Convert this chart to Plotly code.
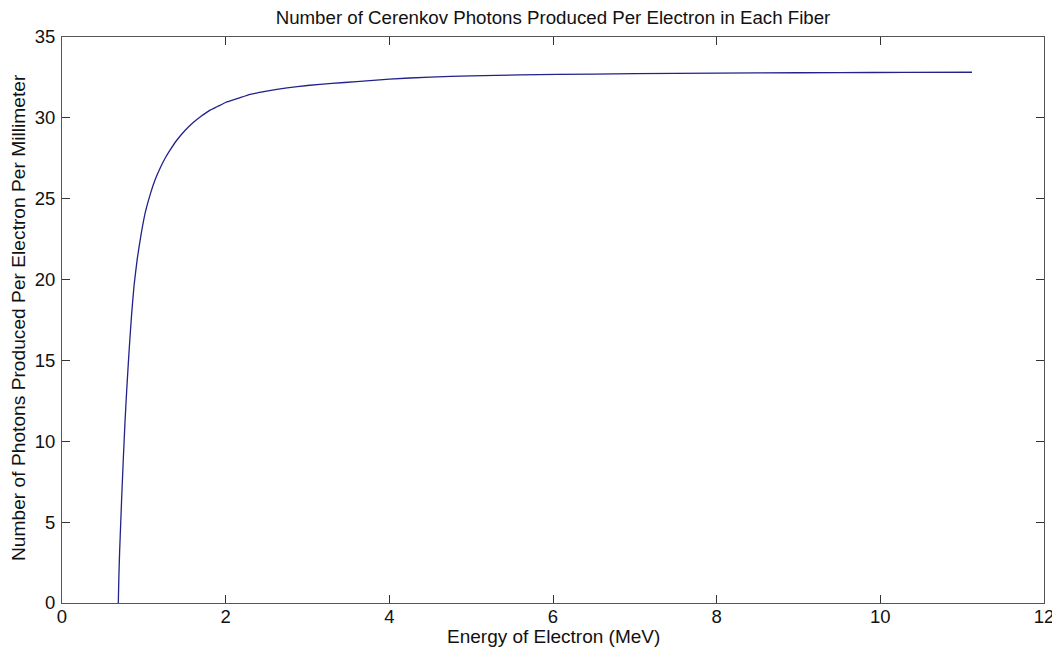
import plotly.graph_objects as go

energy_mev = [0.688, 0.695, 0.705, 0.718, 0.73, 0.75, 0.77, 0.79, 0.82, 0.85, 0.88, 0.92,
              0.97, 1.02, 1.08, 1.14, 1.2, 1.26, 1.32, 1.4, 1.5, 1.6, 1.7, 1.8, 1.9, 2.0,
              2.15, 2.3, 2.5, 2.75, 3.0, 3.3, 3.6, 4.0, 4.5, 5.0, 5.6, 6.5, 7.5, 8.5, 9.5,
              10.3, 11.12]
photons_per_mm = [0, 1.6, 3.3, 5.0, 6.6, 9.0, 11.2, 13.1, 15.6, 17.8, 19.6, 21.3,
                  22.9, 24.2, 25.3, 26.2, 26.9, 27.5, 28.0, 28.6, 29.2, 29.7, 30.1, 30.45, 30.7, 30.95,
                  31.2, 31.45, 31.65, 31.85, 32.0, 32.13, 32.24, 32.4, 32.52, 32.6, 32.66, 32.71, 32.75, 32.78, 32.8,
                  32.81, 32.82]

x_ticks = [0, 2, 4, 6, 8, 10, 12]
y_ticks = [0, 5, 10, 15, 20, 25, 30, 35]

FONT = "Arial, Liberation Sans, sans-serif"
TXT = "#111111"

# the page draws the figure 8 px in from the top-left corner
OFF = 8
W, H = 1060 - OFF, 652 - OFF
L, R, T, B = 62 - OFF, 16, 37 - OFF, 49
PW, PH = W - L - R, H - T - B

fig = go.Figure()
fig.add_trace(go.Scatter(x=energy_mev, y=photons_per_mm, mode="lines",
                         line=dict(color="#22228a", width=1.3, shape="spline", smoothing=0.5),
                         showlegend=False, hoverinfo="skip"))

axis_common = dict(showgrid=False, zeroline=False, showline=True, linecolor="#555555",
                   linewidth=1, mirror="ticks", ticks="inside", ticklen=8, tickwidth=1,
                   tickcolor="#333333", automargin=False,
                   tickfont=dict(family=FONT, size=18.5, color=TXT))

fig.update_layout(
    width=W, height=H,
    margin=dict(l=L, r=R, t=T, b=B, autoexpand=False),
    paper_bgcolor="white", plot_bgcolor="white",
    title=dict(text="Number of Cerenkov Photons Produced Per Electron in Each Fiber",
               x=0.5, xref="paper", xanchor="center", y=1 - 9 / H, yanchor="middle",
               automargin=False,
               font=dict(family=FONT, size=18.7, color=TXT)),
    xaxis=dict(range=[0, 12], tickvals=x_ticks, ticktext=[str(v) for v in x_ticks],
               ticklabelstandoff=-3, **axis_common),
    yaxis=dict(range=[0, 35], tickvals=y_ticks, ticktext=[str(v) for v in y_ticks],
               ticklabelstandoff=2, **axis_common),
    annotations=[
        dict(text="Energy of Electron (MeV)", xref="paper", yref="paper",
             x=0.5, y=-((636 - OFF) - (T + PH)) / PH, xanchor="center", yanchor="middle",
             showarrow=False, font=dict(family=FONT, size=19, color=TXT)),
        dict(text="Number of Photons Produced Per Electron Per Millimeter", xref="paper", yref="paper",
             x=-(L - (18 - OFF)) / PW, y=(T + PH - (318 - OFF)) / PH, xanchor="center",
             yanchor="middle", textangle=-90, showarrow=False,
             font=dict(family=FONT, size=19.2, color=TXT)),
    ],
)

fig.write_html("out.html")
